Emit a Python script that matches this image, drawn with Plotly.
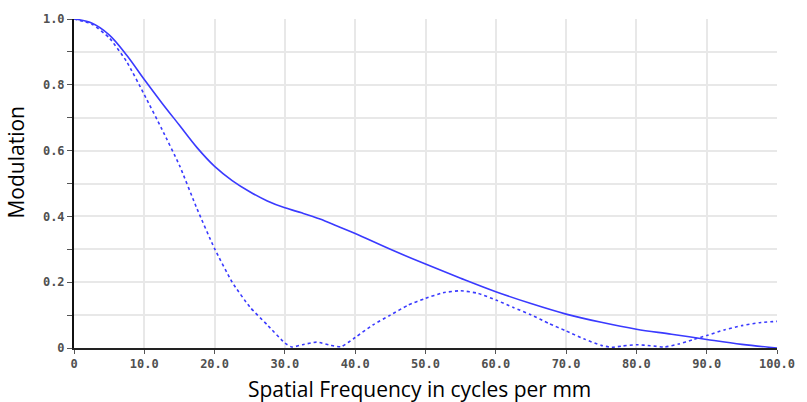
import plotly.graph_objects as go

# Solid curve
freq_solid = [0, 2.5, 5, 7.5, 10, 12.5, 15, 17.5, 20, 22.5, 25, 27.5, 30, 32.5, 35, 37.5,
              40, 45, 50, 55, 60, 65, 70, 75, 80, 85, 90, 95, 100]
mod_solid = [1.0, 0.988, 0.952, 0.89, 0.816, 0.745, 0.677, 0.609, 0.552, 0.509, 0.475, 0.447,
             0.426, 0.41, 0.392, 0.37, 0.348, 0.30, 0.255, 0.212, 0.171, 0.135, 0.103,
             0.078, 0.057, 0.042, 0.026, 0.011, 0.0]

# Dotted curve
freq_dot = [0, 2.5, 5, 7.5, 10, 12.5, 15, 17.5, 20, 22.5, 25, 27.5, 30, 31, 32.5, 34.5,
            36.5, 38, 40, 42.5, 45, 47.5, 50, 52.5, 55, 57.5, 60, 62.5, 65, 67.5, 70, 72.5,
            75, 76.5, 78, 80, 82, 84, 86, 88, 90, 92.5, 95, 97.5, 100]
mod_dot = [1.0, 0.985, 0.943, 0.87, 0.77, 0.665, 0.555, 0.423, 0.302, 0.20, 0.125, 0.07,
           0.015, 0.003, 0.01, 0.018, 0.008, 0.004, 0.032, 0.07, 0.10, 0.13, 0.151, 0.168,
           0.174, 0.166, 0.146, 0.123, 0.101, 0.075, 0.052, 0.028, 0.008, 0.002, 0.006,
           0.01, 0.007, 0.003, 0.012, 0.025, 0.038, 0.055, 0.068, 0.077, 0.081]

x_tickvals = [0, 10, 20, 30, 40, 50, 60, 70, 80, 90, 100]
x_ticktext = ["0", "10.0", "20.0", "30.0", "40.0", "50.0", "60.0", "70.0", "80.0", "90.0", "100.0"]
y_tickvals = [0, 0.1, 0.2, 0.3, 0.4, 0.5, 0.6, 0.7, 0.8, 0.9, 1.0]
y_ticktext = ["0", "", "0.2", "", "0.4", "", "0.6", "", "0.8", "", "1.0"]

BLUE = "#3a3aff"

fig = go.Figure()
fig.add_trace(go.Scatter(x=freq_dot, y=mod_dot, mode="lines",
                         line=dict(color=BLUE, width=1.6, dash="dot", shape="spline", smoothing=0.5),
                         showlegend=False, hoverinfo="skip"))
fig.add_trace(go.Scatter(x=freq_solid, y=mod_solid, mode="lines",
                         line=dict(color=BLUE, width=1.6, shape="spline", smoothing=1.0),
                         showlegend=False, hoverinfo="skip"))

tick_font = dict(family="DejaVu Sans Mono", size=12, color="#505050", weight="bold")

fig.update_layout(
    width=807, height=402,
    margin=dict(l=74, r=22, t=17, b=54),
    paper_bgcolor="white", plot_bgcolor="white",
    xaxis=dict(range=[0, 100], tickvals=x_tickvals, ticktext=x_ticktext,
               showgrid=True, gridcolor="#e8e8e8", gridwidth=1.5,
               showline=True, linecolor="#222222", linewidth=2,
               ticks="outside", ticklen=4, tickcolor="#555555",
               tickfont=tick_font, zeroline=False, fixedrange=True),
    yaxis=dict(range=[0, 1.0], tickvals=y_tickvals, ticktext=y_ticktext,
               showgrid=True, gridcolor="#e8e8e8", gridwidth=1.5,
               showline=True, linecolor="#111111", linewidth=2,
               ticks="outside", ticklen=5, tickcolor="#555555",
               tickfont=tick_font, zeroline=False, fixedrange=True),
    annotations=[
        dict(text="Spatial Frequency in cycles per mm", xref="paper", yref="paper",
             x=(423 - 74) / 711, y=-(390 - 348.5) / 331.5, xanchor="center", yanchor="middle",
             showarrow=False, font=dict(family="Open Sans", size=21, color="black")),
        dict(text="Modulation", xref="paper", yref="paper", textangle=-90,
             x=(15 - 74) / 711, y=(348.5 - 161) / 331.5, xanchor="center", yanchor="middle",
             showarrow=False, font=dict(family="Open Sans", size=21, color="black")),
    ],
)

fig.write_html("out.html", config={"displayModeBar": False},
               post_script="document.body.style.margin='0';document.body.style.overflow='hidden';")
